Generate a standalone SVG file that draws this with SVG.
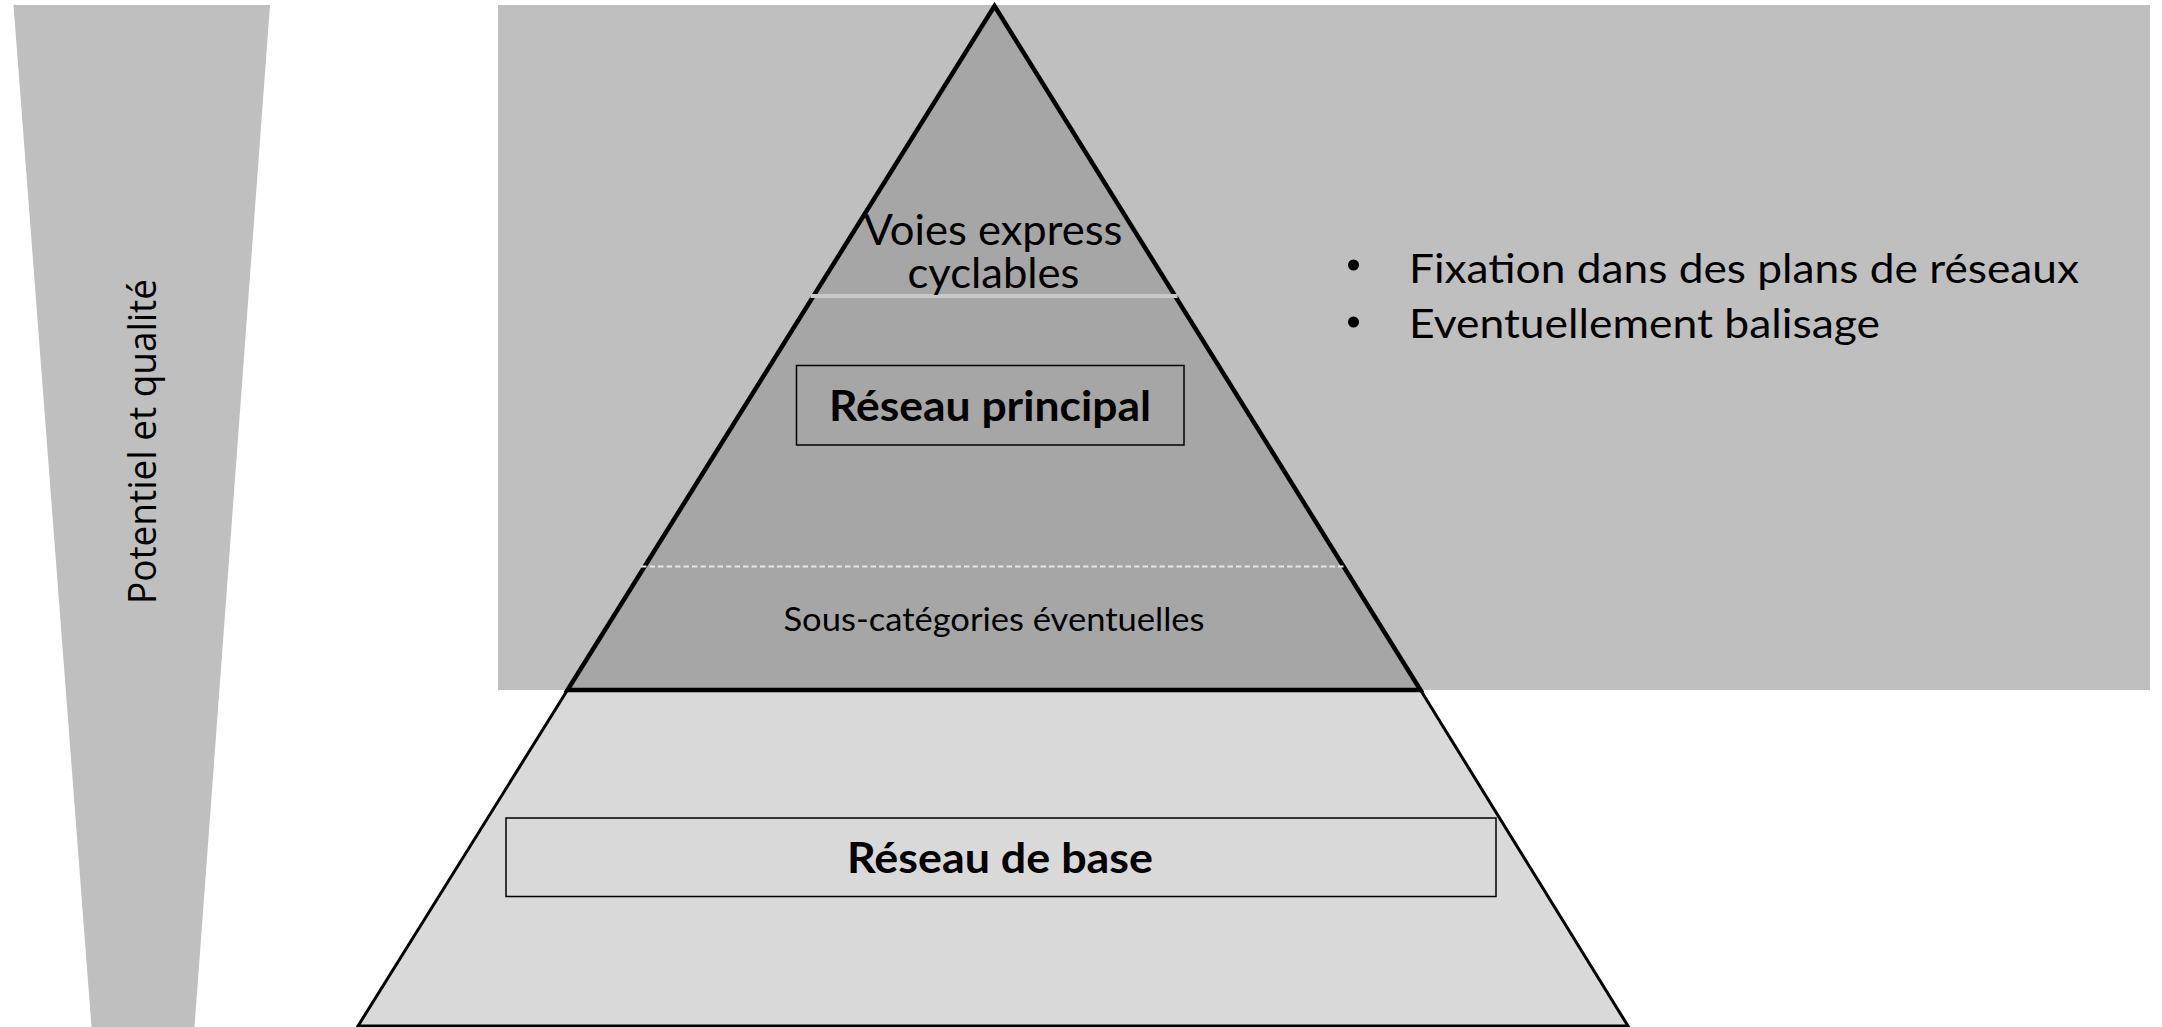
<svg xmlns="http://www.w3.org/2000/svg" width="2162" height="1027" viewBox="0 0 2162 1027">
<style>
.cal{font-family:Lato,"Liberation Sans",sans-serif;fill:#000}
.b{font-weight:bold}
.seg{font-family:"Open Sans","Noto Sans",sans-serif;fill:#000}
</style>
<rect width="2162" height="1027" fill="#ffffff"/>
<g id="background">
<rect x="498" y="5" width="1652" height="685" fill="#bfbfbf"/>
</g>
<g id="axis">
<polygon points="13.5,5 270,5 194.5,1027 91.5,1027" fill="#bfbfbf"/>
<text class="seg" x="0" y="0" font-size="38" text-anchor="middle" transform="translate(156,441.5) rotate(-90)" textLength="325" lengthAdjust="spacingAndGlyphs">Potentiel et qualité</text>
</g>
<g id="base-layer">
<polygon points="567.5,690 1420.5,690 1628,1026 358,1026" fill="#d9d9d9" stroke="#000" stroke-width="3"/>
</g>
<g id="upper-layer">
<polygon points="994.5,6 1420.5,690 567.5,690" fill="#a6a6a6" stroke="#000" stroke-width="4.5"/>
</g>
<g id="connectors">
<line x1="810.5" y1="296" x2="1177.5" y2="296" stroke="#c8c8c8" stroke-width="4"/>
<line x1="641" y1="566.5" x2="1346" y2="566.5" stroke="#e6e6e6" stroke-width="1.8" stroke-dasharray="5.5 3"/>
</g>
<g id="voies-express">
<text class="cal" x="993" y="245" font-size="42" text-anchor="middle" textLength="259" lengthAdjust="spacingAndGlyphs">Voies express</text>
<text class="cal" x="993.5" y="288" font-size="42" text-anchor="middle" textLength="172" lengthAdjust="spacingAndGlyphs">cyclables</text>
</g>
<g id="reseau-principal">
<rect x="796.5" y="365.5" width="387.5" height="79.5" fill="none" stroke="#000" stroke-width="1.5"/>
<text class="cal b" x="990" y="421" font-size="42" text-anchor="middle" textLength="322" lengthAdjust="spacingAndGlyphs">Réseau principal</text>
</g>
<g id="sous-categories">
<text class="cal" x="994" y="631" font-size="33" text-anchor="middle" textLength="421" lengthAdjust="spacingAndGlyphs">Sous-catégories éventuelles</text>
</g>
<g id="reseau-de-base">
<rect x="506" y="818" width="990" height="78.5" fill="#d9d9d9" stroke="#000" stroke-width="1.5"/>
<text class="cal b" x="1000" y="873" font-size="42" text-anchor="middle" textLength="306" lengthAdjust="spacingAndGlyphs">Réseau de base</text>
</g>
<g id="bullets">
<circle cx="1353.5" cy="265" r="5.5" fill="#000"/>
<circle cx="1353.5" cy="322" r="5.5" fill="#000"/>
<text class="cal" x="1409" y="283" font-size="41" textLength="670" lengthAdjust="spacingAndGlyphs">Fixation dans des plans de réseaux</text>
<text class="cal" x="1409" y="337.5" font-size="41" textLength="471" lengthAdjust="spacingAndGlyphs">Eventuellement balisage</text>
</g>
</svg>
